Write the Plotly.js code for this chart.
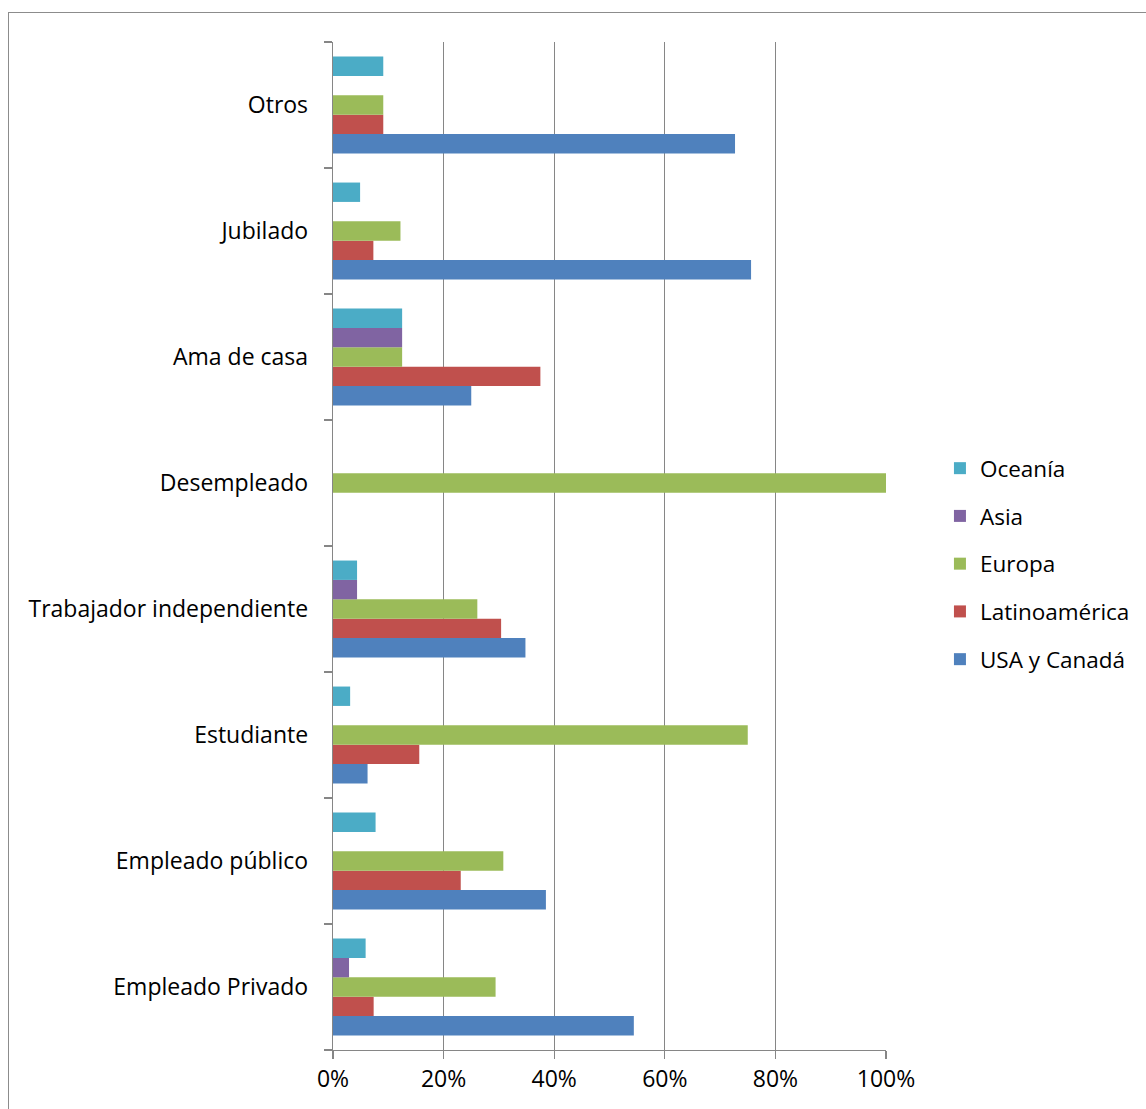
<!DOCTYPE html>
<html><head><meta charset="utf-8">
<script src="https://cdn.plot.ly/plotly-3.0.1.min.js"></script>
<style>
body{margin:0;padding:0;background:#fff;}
#wrap{position:relative;width:1146px;height:1109px;overflow:hidden;}
#frame{position:absolute;left:8px;top:12px;width:1200px;height:1200px;border-left:1.5px solid #8c8c8c;border-top:1.5px solid #8c8c8c;pointer-events:none;}
#chart{position:absolute;left:0;top:0;width:1146px;height:1109px;}
</style></head>
<body><div id="wrap"><div id="chart"></div><div id="frame"></div></div>
<script>
const categories = ['Empleado Privado','Empleado público','Estudiante','Trabajador independiente','Desempleado','Ama de casa','Jubilado','Otros'];
const usaCanada   = [0.544, 0.385, 0.0625, 0.348, 0, 0.25, 0.756, 0.727];
const latam       = [0.0735, 0.231, 0.156, 0.304, 0, 0.375, 0.073, 0.0909];
const europa      = [0.294, 0.308, 0.75, 0.261, 1.0, 0.125, 0.122, 0.0909];
const asia        = [0.029, 0, 0, 0.0435, 0, 0.125, 0, 0];
const oceania     = [0.059, 0.077, 0.031, 0.0435, 0, 0.125, 0.049, 0.0909];
const seriesNames = ['USA y Canadá','Latinoamérica','Europa','Asia','Oceanía'];
const seriesColors = ['#4F81BD','#C0504D','#9BBB59','#8064A2','#4BACC6'];
const seriesVals = [usaCanada, latam, europa, asia, oceania];

const traces = seriesVals.map((v,i)=>({
  type:'bar', orientation:'h', name:seriesNames[i], x:v, y:categories,
  marker:{color:seriesColors[i], line:{width:0}}, legendgroup:'g'+i,
  legendrank:(seriesVals.length - i) * 10, hoverinfo:'x+y'
}));
const font = {family:'"Open Sans", Lato, sans-serif', size:23, color:'#000'};
const legendFont = {family:'"Open Sans", Lato, sans-serif', size:22.5, color:'#000'};
const layout = {
  width:1146, height:1109, paper_bgcolor:'#fff', plot_bgcolor:'#fff',
  margin:{l:333, r:260, t:42, b:59, autoexpand:false},
  barmode:'group', bargap:0.2308, bargroupgap:0,
  font:font, showlegend:true,
  legend:{traceorder:'grouped', xref:'container', yref:'container', x:0.8202, xanchor:'left', y:0.4914, yanchor:'middle',
          font:legendFont, tracegroupgap:15.5, bgcolor:'rgba(0,0,0,0)'},
  xaxis:{range:[0,1], dtick:0.2, tick0:0, tickformat:'.0%', showgrid:true, gridcolor:'#868686', gridwidth:1.3,
         showline:true, linecolor:'#868686', linewidth:1.3, ticks:'outside', ticklen:8, tickcolor:'#868686', tickwidth:1.3,
         zeroline:false, tickfont:font, fixedrange:true, automargin:false},
  yaxis:{type:'category', categoryorder:'array', categoryarray:categories, showline:true, linecolor:'#868686', linewidth:1.3,
         ticks:'outside', tickson:'boundaries', ticklen:8, tickcolor:'#868686', tickwidth:1.3, showgrid:false,
         zeroline:false, tickfont:font, ticklabelstandoff:19, fixedrange:true, automargin:false}
};
Plotly.newPlot('chart', traces, layout, {displayModeBar:false, staticPlot:true});
</script></body></html>
